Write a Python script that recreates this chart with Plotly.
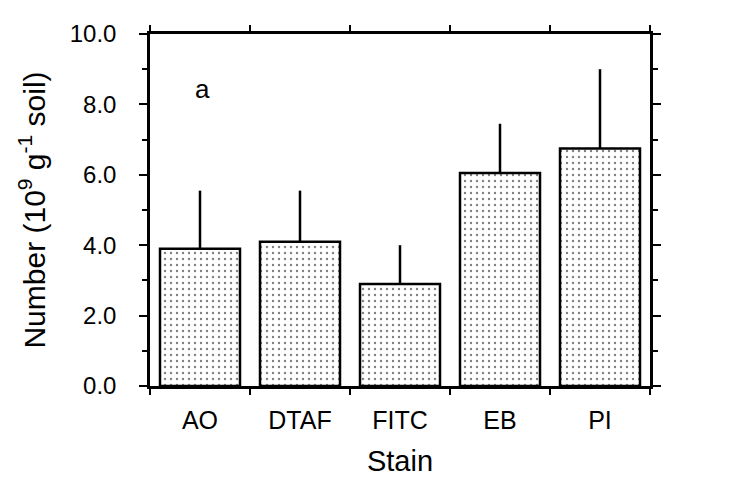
import plotly.graph_objects as go

stains = ["AO", "DTAF", "FITC", "EB", "PI"]
means = [3.9, 4.1, 2.9, 6.05, 6.75]
errors = [1.65, 1.45, 1.1, 1.4, 2.25]
y_ticks = [0, 2, 4, 6, 8, 10]

FONT = "Liberation Sans"

fig = go.Figure()
fig.add_trace(go.Bar(
    x=stains, y=means, width=0.8,
    marker=dict(color="white",
                line=dict(color="black", width=2.5),
                pattern=dict(shape=".", fgcolor="black", bgcolor="white",
                             size=6, solidity=0.12)),
    error_y=dict(type="data", array=errors, symmetric=False,
                 arrayminus=[0]*len(errors), color="black",
                 thickness=2.5, width=0),
))

fig.add_annotation(text="a", x=0.02, y=8.45, xref="x", yref="y",
                   showarrow=False, font=dict(family=FONT, size=26, color="black"))

fig.update_layout(
    width=736, height=477,
    margin=dict(l=142, r=94, t=14, b=99),
    paper_bgcolor="white", plot_bgcolor="white",
    showlegend=False,
    font=dict(family=FONT, color="black"),
    xaxis=dict(
        range=[-0.5, 4.5], tickson="boundaries",
        showline=True, linecolor="black", linewidth=2.5, mirror="ticks",
        ticks="outside", ticklen=6, tickwidth=2, tickcolor="black",
        tickfont=dict(family=FONT, size=25), showgrid=False,
        ticklabelstandoff=10,
        title=dict(text="Stain", font=dict(family=FONT, size=29), standoff=18),
    ),
    yaxis=dict(
        range=[0, 10], tickvals=y_ticks, tickformat=".1f",
        showline=True, linecolor="black", linewidth=2.5, mirror="ticks",
        ticks="outside", ticklen=8, tickwidth=2, tickcolor="black",
        tickfont=dict(family=FONT, size=24), showgrid=False, zeroline=False,
        ticklabelstandoff=18,
        minor=dict(dtick=1, ticks="outside", ticklen=5, tickwidth=2, tickcolor="black"),
        title=dict(text="Number (10<sup>9</sup> g<sup>-1</sup> soil)",
                   font=dict(family=FONT, size=30), standoff=16),
    ),
)

fig.write_html("out.html")
